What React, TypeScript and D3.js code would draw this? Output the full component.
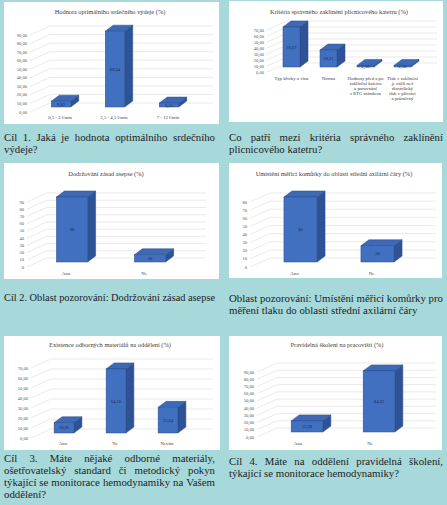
import React, { useRef, useEffect } from 'react';
import * as d3 from 'd3';

const W = 447;
const H = 505;

// --- chart data ---
const c1Title = 'Hodnota optimálního srdečního výdeje (%)';
const c1Categories = ['0,5 - 2 l/min', '3,5 - 4,5 l/min', '7 - 12 l/min'];
const c1Values = [6.82, 88.64, 4.55];
const c1Ticks = [0, 10, 20, 30, 40, 50, 60, 70, 80, 90];

const c2Title = 'Kritéria správného zaklínění plicnicového katetru (%)';
const c2Categories = [
  'Typ křivky a vlna',
  'Norma',
  'Hodnoty před a po\nzaklínění katetru\na porovnání\ns RTG snímkem',
  'Tlak v zaklínění\nje nižší než\ndiastolický\ntlak v plicnici\na průměrný',
];
const c2Values = [66.67, 28.21, 2.56, 2.56];
const c2Ticks = [0, 10, 20, 30, 40, 50, 60, 70];

const c3Title = 'Dodržování zásad asepse (%)';
const c3Categories = ['Ano', 'Ne'];
const c3Values = [90, 10];
const c3Ticks = [0, 10, 20, 30, 40, 50, 60, 70, 80, 90];

const c4Title = 'Umístění měřicí komůrky do oblasti střední axilární čáry (%)';
const c4Categories = ['Ano', 'Ne'];
const c4Values = [80, 20];
const c4Ticks = [0, 10, 20, 30, 40, 50, 60, 70, 80];

const c5Title = 'Existence odborných materiálů na oddělení (%)';
const c5Categories = ['Ano', 'Ne', 'Nevím'];
const c5Values = [10.26, 64.1, 25.64];
const c5Ticks = [0, 10, 20, 30, 40, 50, 60, 70];

const c6Title = 'Pravidelná školení na pracovišti (%)';
const c6Categories = ['Ano', 'Ne'];
const c6Values = [15.38, 84.62];
const c6Ticks = [0, 10, 20, 30, 40, 50, 60, 70, 80, 90];

// --- captions under the charts ---
const cap1Lines = ['Cíl 1. Jaká je hodnota optimálního srdečního', 'výdeje?'];
const cap2Lines = ['Co patří mezi kritéria správného zaklínění', 'plicnicového katetru?'];
const cap3Lines = ['Cíl 2. Oblast pozorování: Dodržování zásad asepse'];
const cap4Lines = ['Oblast pozorování: Umístění měřicí komůrky pro', 'měření tlaku do oblasti střední axilární čáry'];
const cap5Lines = [
  'Cíl 3. Máte nějaké odborné materiály,',
  'ošetřovatelský standard či metodický pokyn',
  'týkající se monitorace hemodynamiky na Vašem',
  'oddělení?',
];
const cap6Lines = ['Cíl 4. Máte na oddělení pravidelná školení,', 'týkající se monitorace hemodynamiky?'];

const locale = d3.formatLocale({ decimal: ',', thousands: ' ', grouping: [3], currency: ['', ''] });
const dec2 = locale.format('.2f');
const int0 = locale.format('d');

const charts = [
  { title: c1Title, categories: c1Categories, values: c1Values, ticks: c1Ticks, fmt: dec2 },
  { title: c2Title, categories: c2Categories, values: c2Values, ticks: c2Ticks, fmt: dec2 },
  { title: c3Title, categories: c3Categories, values: c3Values, ticks: c3Ticks, fmt: int0 },
  { title: c4Title, categories: c4Categories, values: c4Values, ticks: c4Ticks, fmt: int0 },
  { title: c5Title, categories: c5Categories, values: c5Values, ticks: c5Ticks, fmt: dec2 },
  { title: c6Title, categories: c6Categories, values: c6Values, ticks: c6Ticks, fmt: dec2 },
];

// panel placement, one per chart
const layouts = [
  { px: 4, py: 2, pw: 215, ph: 122, tx: 110, ty: 14, yTop: 35, yBot: 112, tickRight: 27, band: [33, 195], gridRight: 213, catY: 119, frac: 0.36, fx: 1 },
  { px: 229, py: 1, pw: 214, ph: 121, tx: 339, ty: 14, yTop: 30, yBot: 72, tickRight: 264, band: [273, 421], gridRight: 437, catY: 80, frac: 0.46, fx: 0 },
  { px: 4, py: 163, pw: 215, ph: 116, tx: 106, ty: 176, yTop: 202, yBot: 267, tickRight: 24, band: [27, 183], gridRight: 206, catY: 275, frac: 0.4, fx: 6 },
  { px: 229, py: 163, pw: 213, ph: 115, tx: 334, ty: 176, yTop: 202, yBot: 267, tickRight: 247, band: [256, 410], gridRight: 436, catY: 275, frac: 0.43, fx: 6 },
  { px: 4, py: 336, pw: 216, ph: 114, tx: 110, ty: 347, yTop: 368, yBot: 438, tickRight: 28, band: [37, 193], gridRight: 213, catY: 445, frac: 0.38, fx: 1 },
  { px: 229, py: 336, pw: 213, ph: 114, tx: 337, ty: 347, yTop: 372, yBot: 437, tickRight: 254, band: [262, 406], gridRight: 436, catY: 445, frac: 0.44, fx: 9 },
];

const captions = [
  { lines: cap1Lines, x: 4, y: 141, w: 211 },
  { lines: cap2Lines, x: 229, y: 141, w: 214 },
  { lines: cap3Lines, x: 4, y: 301, w: 211 },
  { lines: cap4Lines, x: 229, y: 302, w: 214 },
  { lines: cap5Lines, x: 4, y: 462, w: 211 },
  { lines: cap6Lines, x: 229, y: 465, w: 214 },
];

// 3D look
const WALL = { dx: 20, dy: -9 };
const FY = -5;
const DEPTH = { dx: 8, dy: -6 };
const COLORS = { front: '#4170c1', top: '#3d69b6', side: '#2d5396', edge: '#2a4c88' };
const SERIF = 'Liberation Serif';

const App = () => {
  const svgRef = useRef<SVGSVGElement>(null);

  useEffect(() => {
    const svg = d3.select(svgRef.current);
    svg.selectAll('*').remove();

    svg.append('rect').attr('width', W).attr('height', H).attr('fill', '#a7d8da');

    charts.forEach((c, ci) => {
      const L = layouts[ci];
      const g = svg.append('g').attr('font-family', SERIF);

      g.append('rect')
        .attr('x', L.px).attr('y', L.py)
        .attr('width', L.pw).attr('height', L.ph)
        .attr('fill', '#ffffff');

      const yMax = d3.max(c.ticks) as number;
      const y = d3.scaleLinear().domain([0, yMax]).range([L.yBot, L.yTop]);
      const x = d3.scaleBand().domain(c.categories).range(L.band as [number, number]);
      const bw = x.bandwidth() * L.frac;
      const ax = L.tickRight + 3;

      // gridlines on the side and back walls
      g.selectAll('.grid')
        .data(c.ticks)
        .enter()
        .append('path')
        .attr('d', t => `M${ax},${y(t)}L${ax + WALL.dx},${y(t) + WALL.dy}L${L.gridRight},${y(t) + WALL.dy}`)
        .attr('fill', 'none')
        .attr('stroke', '#dcdcdc')
        .attr('stroke-width', 0.6);

      // tick labels
      g.selectAll('.tick')
        .data(c.ticks)
        .enter()
        .append('text')
        .attr('x', L.tickRight)
        .attr('y', t => y(t) + 1.6)
        .attr('text-anchor', 'end')
        .attr('font-size', 4.6)
        .attr('fill', '#595959')
        .text(t => c.fmt(t));

      // bars
      c.values.forEach((v, i) => {
        const cat = c.categories[i];
        const x0 = (x(cat) as number) + (x.bandwidth() - bw) / 2 + L.fx;
        const yT = y(v) + FY;
        const yB = y(0) + FY;
        const bar = g.append('g');
        bar.append('polygon')
          .attr('points', [[x0 + bw, yT], [x0 + bw + DEPTH.dx, yT + DEPTH.dy], [x0 + bw + DEPTH.dx, yB + DEPTH.dy], [x0 + bw, yB]].join(' '))
          .attr('fill', COLORS.side).attr('stroke', COLORS.edge).attr('stroke-width', 0.5);
        bar.append('polygon')
          .attr('points', [[x0, yT], [x0 + DEPTH.dx, yT + DEPTH.dy], [x0 + bw + DEPTH.dx, yT + DEPTH.dy], [x0 + bw, yT]].join(' '))
          .attr('fill', COLORS.top).attr('stroke', COLORS.edge).attr('stroke-width', 0.5);
        bar.append('rect')
          .attr('x', x0).attr('y', yT)
          .attr('width', bw).attr('height', yB - yT)
          .attr('fill', COLORS.front).attr('stroke', COLORS.edge).attr('stroke-width', 0.5);
        bar.append('text')
          .attr('x', x0 + bw / 2)
          .attr('y', (yT + yB) / 2 + 1.6)
          .attr('text-anchor', 'middle')
          .attr('font-size', 4.6)
          .attr('fill', '#1b2a4d')
          .text(c.fmt(v));
      });

      // category labels
      c.categories.forEach(cat => {
        const cx = (x(cat) as number) + x.bandwidth() / 2;
        cat.split('\n').forEach((ln, k) => {
          g.append('text')
            .attr('x', cx)
            .attr('y', L.catY + k * 5)
            .attr('text-anchor', 'middle')
            .attr('font-size', 4.8)
            .attr('fill', '#404040')
            .text(ln);
        });
      });

      g.append('text')
        .attr('x', L.tx)
        .attr('y', L.ty)
        .attr('text-anchor', 'middle')
        .attr('font-size', 6.4)
        .attr('fill', '#404040')
        .text(c.title);
    });

    // captions, justified like the poster text
    captions.forEach(cap => {
      const g = svg.append('g')
        .attr('font-family', SERIF)
        .attr('font-size', 10.8)
        .attr('fill', '#1e1e1e');
      cap.lines.forEach((ln, i) => {
        const yy = cap.y + i * 12;
        const last = i === cap.lines.length - 1 && cap.lines.length > 1;
        const whole = g.append('text').attr('x', cap.x).attr('y', yy).text(ln);
        const natural = (whole.node() as SVGTextElement).getComputedTextLength();
        if (natural > cap.w) {
          whole.attr('textLength', cap.w).attr('lengthAdjust', 'spacingAndGlyphs');
          return;
        }
        if (last) return;
        whole.remove();
        const words = ln.split(' ');
        const nodes = words.map(w => g.append('text').attr('y', yy).text(w));
        const widths = nodes.map(n => (n.node() as SVGTextElement).getComputedTextLength());
        const gap = (cap.w - d3.sum(widths)) / (words.length - 1);
        let cx = cap.x;
        nodes.forEach((n, k) => {
          n.attr('x', cx);
          cx += widths[k] + gap;
        });
      });
    });
  }, []);

  return (
    <svg
      ref={svgRef}
      width={W}
      height={H}
      style={{ position: 'absolute', left: 0, top: 0, display: 'block' }}
    />
  );
};

export default App;
